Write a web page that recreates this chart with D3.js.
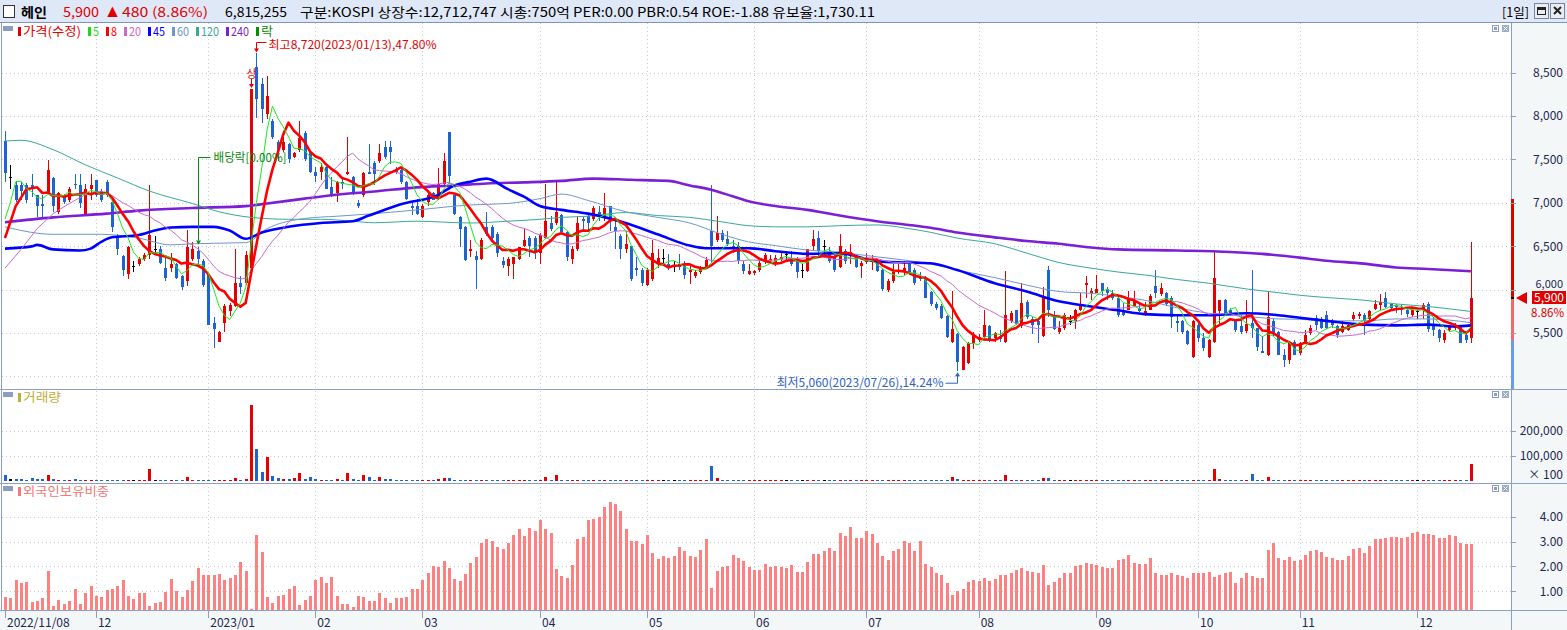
<!DOCTYPE html>
<html>
<head>
<meta charset="utf-8">
<script src="https://cdn.jsdelivr.net/npm/d3@7"></script>
<style>
  body { margin: 0; background: #fff; overflow: hidden; }
  svg text { font-family: "Noto Sans CJK KR", "Noto Sans", sans-serif; }
</style>
</head>
<body>
<svg id="chart" width="1567" height="630"></svg>
<script>
// ---- data ----
const firstDay = new Date(2022, 10, 8);
const lastDay = new Date(2023, 11, 15);
const holidays = ['2022-12-30','2023-01-23','2023-01-24','2023-03-01','2023-05-01','2023-05-05',
  '2023-05-29','2023-06-06','2023-08-15','2023-09-28','2023-09-29','2023-10-02','2023-10-03','2023-10-09'];

const openP = [
  7711,7295,7200,7200,7200,7200,7092,6985,7113,7287, 6897,7092,7027,7222,7200,6875,7157,7265,7135,7243,
  7005,6615,6385,6182,6270,6290,6355,6398,6463,6463, 6247,6247,6290,6152,6095,6355,6442,6325,6169,5610,
  5402,5619,5750,5814,6073,6073,6247,8565,8370,8020, 7937,7698,7612,7677,7525,7612,7807,7590,7352,7352,
  7417,7178,7113,7243,7330,7295,7000,7092,7352,7460, 7482,7642,7642,7382,7373,7243,6962,6962,6832,7005,
  7113,7048,7222,7815,7092,6832,6723,6450,6385,6355, 6723,6723,6637,6333,6268,6300,6355,6507,6593,6600,
  6420,6593,6767,6767,6862,6658,6355,6463,6810,6853, 6810,6890,6832,6962,6723,6615,6463,6498,6247,6225,
  6052,6117,6290,6368,6300,6270,6290,6268,6200,6152, 6203,6247,6680,6572,6650,6585,6507,6498,6290,6182,
  6190,6225,6333,6325,6290,6355,6412,6368,6355,6225, 6212,6507,6593,6500,6420,6377,6255,6442,6385,6377,
  6268,6320,6330,6333,6225,6000,6095,6203,6203,6290, 6225,6160,6138,5978,5835,5814,5692,5402,5489,5077,
  5155,5380,5424,5458,5575,5445,5467,5402,5640,5762, 5575,5857,5662,5640,5467,6225,5684,5510,5554,5640,
  5640,5770,6052,5965,5965,6073,6008,5965,5909,5770, 5770,5814,5792,5705,5770,6043,5944,5965,5909,5640,
  5640,5519,5220,5597,5445,5220,5402,5748,5878,5770, 5640,5575,5519,5618,5554,5294,5250,5640,5510,5250,
  5185,5402,5264,5389,5497,5670,5662,5705,5640,5575, 5510,5532,5662,5697,5705,5662,5780,5822,5900,5835,
  5822,5792,5770,5705,5748,5770,5835,5575,5532,5424, 5532,5562,5575,5475,5437];

const highP = [
  7828,7438,7252,7243,7230,7330,7092,7090,7495,7295, 7122,7100,7178,7330,7330,7222,7330,7265,7157,7265,
  7027,6637,6398,6507,6330,6377,6420,7210,6615,6507, 6377,6420,6312,6170,6690,6550,6485,6355,6180,5684,
  5520,5835,5850,6472,6152,6442,8310,8720,8435,8465, 7960,7720,7763,7690,7590,7945,7830,7600,7417,7460,
  7438,7295,7250,7287,7755,7308,7027,7352,7677,7482, 7677,7712,7712,7417,7395,7252,7005,7048,6983,7113,
  7122,7395,7578,7815,7113,6853,6732,6570,6440,6593, 6897,6745,6658,6377,6377,6377,6485,6702,6615,6615,
  6650,7222,6853,7252,6875,6680,6507,6853,6832,6875, 6962,6962,7113,6962,6810,6637,6680,6507,6377,6247,
  6247,6572,6463,6463,6412,6333,6412,6333,6290,6225, 6268,6377,7200,6853,6690,6680,6572,6550,6333,6290,
  6225,6333,6420,6398,6398,6442,6442,6442,6377,6290, 6472,6690,6680,6572,6485,6398,6637,6463,6528,6398,
  6333,6420,6398,6355,6247,6117,6290,6290,6333,6312, 6247,6203,6152,5987,5857,5835,5705,5987,5500,5345,
  5402,5510,5489,5770,5597,5510,5532,6212,5748,5770, 6073,5878,5684,5662,6030,6268,5748,5640,5727,5705,
  5780,5965,6152,6020,6170,6080,6030,6000,5922,5850, 5987,5987,5857,5857,5944,6225,6073,5978,5922,5705,
  5650,5532,5650,5618,5500,5430,6442,5878,5890,5792, 5662,5705,5878,6225,5562,5467,5987,5662,5519,5315,
  5402,5424,5402,5532,5597,5705,5684,5748,5662,5597, 5640,5618,5740,5740,5727,5762,5878,5944,5975,5848,
  5835,5822,5805,5792,5770,5848,5857,5684,5545,5532, 5597,5618,5597,5489,6550];

const lowP = [
  7243,7157,7005,7027,7000,7070,6832,6830,7092,6897, 6875,6990,7005,7157,6940,6875,7027,7070,7005,7070,
  6658,6398,6160,6125,6205,6270,6333,6355,6420,6290, 6095,6203,6125,5995,6040,6333,6290,6030,5597,5328,
  5402,5510,5700,5805,5944,6052,6225,7980,7915,7960, 7740,7482,7590,7460,7515,7590,7482,7340,7243,7265,
  7157,7070,7005,7157,7320,7092,6940,7070,7330,7200, 7460,7503,7452,7330,7222,7027,6862,6862,6820,6962,
  7027,7027,7200,7222,6862,6485,6325,6370,6008,6342, 6615,6572,6377,6247,6160,6117,6342,6485,6377,6355,
  6290,6585,6680,6745,6637,6333,6290,6442,6658,6680, 6788,6788,6788,6680,6463,6355,6420,6095,6160,6040,
  6040,6095,6247,6290,6225,6203,6225,6117,6060,6138, 6182,6233,6320,6550,6550,6507,6420,6290,6182,6170,
  6170,6203,6290,6290,6268,6333,6333,6268,6138,6138, 6203,6442,6377,6377,6312,6203,6247,6290,6290,6247,
  6138,6290,6225,6203,5987,5970,6080,6180,6170,6170, 6052,6095,5900,5814,5770,5662,5445,5389,5060,5070,
  5140,5320,5400,5445,5402,5402,5402,5389,5618,5597, 5554,5662,5489,5389,5458,5684,5532,5489,5532,5597,
  5545,5748,5900,5878,5965,5922,5878,5878,5684,5692, 5762,5805,5740,5692,5762,5900,5922,5814,5554,5510,
  5489,5358,5212,5402,5294,5212,5389,5600,5705,5692, 5510,5489,5500,5445,5294,5264,5230,5467,5242,5112,
  5140,5242,5250,5372,5480,5532,5545,5545,5554,5445, 5497,5519,5640,5662,5475,5640,5762,5770,5792,5762,
  5727,5705,5684,5684,5662,5662,5510,5467,5402,5389, 5510,5532,5380,5389,5389];

const closeP = [
  7339,7295,7027,7135,7027,7157,6962,6960,7382,6962, 7113,7005,7157,7200,6992,7157,7200,7092,7027,7092,
  6723,6463,6225,6485,6270,6355,6398,6628,6463,6312, 6138,6290,6138,6030,6485,6472,6355,6052,5597,5545,
  5510,5806,5820,6073,6030,6398,8310,8196,8075,8230, 7763,7612,7698,7503,7568,7742,7503,7352,7308,7408,
  7157,7092,7243,7222,7352,7113,6960,7343,7330,7330, 7568,7525,7582,7352,7243,7048,6945,6875,6962,7092,
  7035,7222,7482,7308,6875,6702,6342,6463,6342,6572, 6637,6593,6420,6282,6355,6370,6485,6572,6507,6442,
  6630,6788,6702,6897,6658,6377,6463,6767,6788,6767, 6940,6862,6940,6788,6680,6463,6528,6117,6225,6073,
  6225,6420,6368,6368,6247,6270,6255,6170,6225,6203, 6255,6342,6507,6650,6572,6528,6463,6325,6212,6212,
  6212,6312,6398,6355,6368,6377,6412,6290,6203,6225, 6463,6585,6442,6500,6333,6225,6507,6333,6430,6255,
  6312,6333,6345,6212,6008,6095,6203,6225,6247,6203, 6073,6117,5909,5835,5792,5675,5458,5545,5164,5337,
  5389,5467,5458,5597,5424,5500,5432,5705,5735,5605, 5848,5684,5590,5597,5930,5770,5545,5562,5705,5640,
  5762,5835,6073,5987,6008,5987,5965,5905,5705,5705, 5878,5865,5748,5757,5922,5965,6022,5835,5684,5619,
  5510,5372,5640,5445,5328,5424,6138,5878,5718,5705, 5532,5510,5605,5554,5337,5272,5684,5489,5250,5185,
  5389,5250,5389,5475,5562,5590,5562,5554,5597,5475, 5575,5597,5705,5718,5640,5748,5835,5857,5805,5792,
  5805,5770,5718,5770,5748,5822,5545,5532,5445,5500, 5567,5590,5389,5420,5900];

const volume = [
  2500000,900000,900000,900000,500000,1300000,900000,900000,2500000,900000,
  500000,500000,500000,900000,500000,500000,500000,500000,450000,450000,
  500000,500000,500000,500000,400000,500000,500000,4700000,500000,450000,
  450000,500000,450000,450000,1700000,500000,450000,450000,450000,450000,
  450000,500000,500000,1300000,500000,900000,30300000,12700000,3700000,9700000,
  2100000,1300000,900000,900000,1300000,3300000,900000,1700000,900000,500000,
  500000,500000,900000,500000,3300000,900000,500000,2500000,1700000,500000,
  1500000,900000,900000,450000,450000,500000,450000,420000,450000,480000,
  450000,750000,1200000,1200000,500000,450000,480000,420000,500000,450000,
  420000,450000,420000,400000,420000,450000,400000,420000,450000,420000,
  500000,1500000,450000,2500000,450000,420000,400000,450000,420000,400000,
  420000,400000,450000,420000,400000,420000,400000,450000,380000,400000,
  420000,450000,400000,380000,400000,380000,400000,420000,380000,400000,
  380000,420000,6000000,1350000,450000,420000,400000,420000,380000,400000,
  380000,400000,420000,380000,400000,380000,360000,400000,380000,360000,
  420000,450000,400000,380000,400000,380000,450000,400000,380000,400000,
  380000,360000,380000,400000,420000,380000,400000,380000,400000,380000,
  400000,380000,450000,420000,400000,420000,480000,1500000,650000,500000,
  450000,420000,400000,450000,400000,380000,400000,2400000,450000,420000,
  500000,420000,400000,420000,1200000,1200000,450000,400000,420000,380000,
  420000,450000,500000,420000,450000,420000,400000,380000,450000,400000,
  420000,400000,380000,400000,420000,500000,420000,400000,450000,420000,
  400000,420000,500000,420000,400000,450000,4800000,750000,450000,420000,
  420000,400000,500000,2700000,450000,420000,1500000,450000,420000,400000,
  420000,400000,450000,420000,450000,420000,400000,420000,400000,420000,
  400000,420000,450000,420000,400000,450000,480000,500000,450000,420000,
  400000,380000,400000,420000,380000,450000,600000,420000,450000,400000,
  420000,400000,450000,420000,6815255];

const foreign = [
  0.78,0.74,1.47,1.32,1.39,0.58,0.62,0.74,1.80,0.42, 0.66,0.50,0.62,1.07,0.50,0.91,1.23,0.82,0.78,1.03,
  1.07,1.23,1.47,0.82,0.70,0.91,0.91,0.42,0.54,0.58, 0.96,1.51,0.99,0.78,1.03,1.43,1.92,1.64,1.64,1.64,
  1.68,1.47,1.55,1.64,2.16,1.80,0.30,3.26,2.57,0.78, 0.54,0.82,0.86,1.11,1.23,0.46,0.66,0.82,1.47,1.59,
  1.35,1.59,0.82,0.50,0.50,0.38,0.82,0.78,0.62,0.62, 0.91,0.74,0.54,0.74,0.74,0.78,1.07,1.07,1.47,1.72,
  2.00,1.96,2.20,1.92,1.51,1.43,1.68,2.12,2.36,2.93, 3.09,3.01,2.77,2.71,2.93,3.27,3.51,3.24,3.54,3.44,
  3.85,3.51,3.36,1.90,1.61,1.53,2.05,3.12,3.19,3.85, 3.92,3.97,4.40,4.61,4.52,4.21,3.51,3.03,3.03,2.90,
  3.27,2.54,2.30,2.42,2.33,2.42,2.78,2.63,2.42,2.36, 2.66,3.12,1.14,1.81,1.99,2.02,2.45,2.33,2.22,1.99,
  1.87,1.87,2.11,1.99,2.02,1.99,1.95,2.07,1.79,1.79, 2.19,2.51,2.51,2.63,2.72,2.60,3.36,3.21,3.60,3.13,
  3.13,3.41,3.32,2.95,2.40,2.25,2.60,2.69,3.04,2.93, 2.60,3.04,2.08,1.99,1.75,1.66,1.34,0.86,1.02,1.11,
  1.38,1.47,1.41,1.53,1.43,1.49,1.66,1.66,1.75,1.84, 1.95,1.81,1.76,1.75,2.05,1.26,1.38,1.53,1.75,1.75,
  2.02,2.05,2.14,2.11,2.05,1.99,1.95,1.95,2.25,2.30, 2.45,2.14,2.08,2.08,2.33,1.72,1.66,1.64,1.72,1.66,
  1.61,1.53,1.72,1.72,1.72,1.76,1.56,1.66,1.72,1.79, 1.35,1.53,1.72,1.60,1.53,1.53,2.65,2.93,2.33,2.26,
  2.36,2.20,2.25,2.45,2.60,2.65,2.57,2.39,2.34,2.26, 2.26,2.42,2.68,2.75,2.55,2.81,3.12,3.12,3.16,3.18,
  3.18,3.16,3.18,3.36,3.39,3.30,3.30,3.27,3.16,3.16, 3.27,3.22,2.93,2.90,2.90];

const ma45Read = [[0,6472],[5,6498],[6,6515],[9,6463],[14,6450],[16,6472],[18,6550],[20,6602],[25,6628],
  [28,6680],[31,6715],[35,6723],[39,6723],[42,6680],[45,6585],[48,6658],[53,6723],[59,6767],[65,6788],
  [68,6853],[74,6983],[81,7092],[84,7200],[87,7243],[90,7278],[94,7157],[97,7070],[100,6962],[104,6918],
  [109,6875],[116,6767],[122,6637],[128,6507],[131,6477],[139,6477],[144,6442],[150,6412],[156,6420],
  [163,6325],[169,6312],[173,6303],[178,6225],[185,6073],[191,5978],[197,5865],[202,5814],[208,5762],
  [213,5718],[219,5705],[225,5705],[232,5727],[238,5705],[242,5675],[247,5640],[254,5597],[260,5588],
  [266,5597],[271,5575],[274,5588]];
const ma60Read = [[0,6723],[9,6637],[18,6637],[25,6593],[31,6515],[35,6528],[45,6541],[49,6702],[56,6819],
  [62,6845],[69,6875],[77,6918],[87,6975],[94,6992],[100,7048],[104,7100],[109,7027],[116,6897],[122,6832],
  [128,6767],[134,6637],[139,6550],[144,6507],[150,6455],[156,6429],[163,6377],[169,6333],[173,6295],
  [178,6225],[185,6138],[191,6052],[197,5978],[203,5957],[208,5922],[213,5878],[219,5792],[225,5727],
  [232,5692],[238,5662],[242,5658],[247,5640],[254,5640],[260,5662],[266,5662],[274,5619]];
const ma120Read = [[0,7711],[3,7720],[9,7612],[15,7438],[21,7287],[27,7135],[35,6992],[40,6897],[46,6832],
  [53,6810],[59,6810],[65,6788],[69,6770],[77,6788],[87,6767],[94,6788],[100,6810],[104,6832],[109,6845],
  [116,6888],[122,6853],[128,6832],[134,6780],[139,6736],[144,6723],[150,6723],[156,6736],[163,6745],
  [169,6702],[173,6660],[178,6593],[185,6528],[191,6420],[197,6312],[203,6247],[208,6203],[213,6169],
  [219,6117],[225,6073],[232,6008],[238,5965],[242,5935],[247,5909],[254,5878],[260,5835],[266,5805],
  [274,5748]];
const ma240Read = [[0,6775],[9,6832],[19,6875],[25,6910],[35,6940],[45,6962],[49,6992],[56,7048],[62,7092],
  [69,7130],[77,7178],[84,7200],[90,7222],[97,7235],[104,7252],[110,7278],[117,7265],[124,7252],[128,7200],
  [132,7150],[136,7075],[139,7018],[144,6962],[150,6918],[156,6853],[163,6788],[169,6745],[173,6712],
  [178,6658],[185,6602],[191,6559],[197,6528],[203,6485],[208,6463],[219,6450],[229,6433],[235,6412],
  [242,6368],[247,6333],[254,6299],[260,6255],[266,6238],[274,6212]];
// start of the short averages, before their window is full
const ma5Head = [[0,6810],[1,7000],[2,7240],[3,7250]];
const ma8Head = [[0,6593],[2,6962],[4,7157],[6,7178]];
const ma20Head = [[0,6247],[3,6463],[6,6702],[9,6875],[12,6992],[15,7092],[18,7135]];

const priceTicks = [5500, 6000, 6500, 7000, 7500, 8000, 8500];
const priceGrid = [5000, 5500, 6000, 6500, 7000, 7500, 8000, 8500];
const volTicks = [100000, 200000];       // shown in units of 100 shares
const foreignTicks = [1, 2, 3, 4];
const exDivBar = 36;
const upperLimit = 7040;

// ---- trading days ----
const fmtKey = d3.timeFormat('%Y-%m-%d');
const dates = [];
for (let d = new Date(firstDay); d <= lastDay; d.setDate(d.getDate() + 1)) {
  const wd = d.getDay();
  if (wd === 0 || wd === 6 || holidays.includes(fmtKey(d))) continue;
  dates.push(new Date(d));
}

// ---- layout ----
const W = 1567, H = 630;
const plotR = 1511;
const pTop = 23, pBot = 389, vBot = 481, fTop = 483, fBot = 610;
const svg = d3.select('#chart');

const n = closeP.length;
const x = d3.scaleBand().domain(d3.range(n)).range([2.3, 2.3 + n * 5.35]);
const xc = i => x(i) + x.bandwidth() / 2;
const yP = d3.scaleLinear().domain([4855, 9071]).range([pBot, pTop]);
const yV = d3.scaleLinear().domain([0, 368000]).range([vBot, pBot]);
const yF = d3.scaleLinear().domain([0.245, 5.355]).range([fBot, fTop]);

const gridC = '#c5cad4', frameC = '#8c9ec2', axisTxt = '#1b2850';
const upC = '#e60000', dnC = '#1f63d0';
const candleCol = i => closeP[i] > openP[i] ? upC : (closeP[i] < openP[i] ? dnC : '#000');

// backgrounds
svg.append('rect').attr('width', W).attr('height', H).attr('fill', '#fff');
svg.append('rect').attr('x', plotR).attr('y', pTop).attr('width', W - plotR).attr('height', H - pTop).attr('fill', '#f4f7f7');
svg.append('rect').attr('x', 0).attr('y', fBot).attr('width', plotR).attr('height', H - fBot).attr('fill', '#f4f7f7');

// clips
const defs = svg.append('defs');
[['clipP', pTop, pBot], ['clipV', pBot, fTop], ['clipF', fTop, fBot]].forEach(([id, t, b]) => {
  defs.append('clipPath').attr('id', id).append('rect')
    .attr('x', 2).attr('y', t).attr('width', plotR - 2).attr('height', b - t);
});

// month ticks from dates
const monthIdx = [];
dates.forEach((d, i) => {
  if (i === 0 || d.getMonth() !== dates[i - 1].getMonth()) monthIdx.push(i);
});
const monthLabel = i => i === 0 ? d3.timeFormat('%Y/%m/%d')(dates[i])
  : (dates[i].getMonth() === 0 ? d3.timeFormat('%Y/%m')(dates[i]) : d3.timeFormat('%m')(dates[i]));

// grid
const grid = svg.append('g').attr('stroke', gridC).attr('stroke-dasharray', '1,3').attr('shape-rendering', 'crispEdges');
grid.selectAll('.gp').data(priceGrid).join('line')
  .attr('x1', 2).attr('x2', plotR).attr('y1', d => Math.round(yP(d)) + 0.5).attr('y2', d => Math.round(yP(d)) + 0.5);
grid.selectAll('.gv').data(volTicks).join('line').attr('class', 'gv')
  .attr('x1', 2).attr('x2', plotR).attr('y1', d => Math.round(yV(d)) + 0.5).attr('y2', d => Math.round(yV(d)) + 0.5);
grid.selectAll('.gf').data(foreignTicks).join('line').attr('class', 'gf')
  .attr('x1', 2).attr('x2', plotR).attr('y1', d => Math.round(yF(d)) + 0.5).attr('y2', d => Math.round(yF(d)) + 0.5);
grid.selectAll('.gx').data(monthIdx.slice(1)).join('line').attr('class', 'gx')
  .attr('x1', d => Math.round(xc(d)) + 0.5).attr('x2', d => Math.round(xc(d)) + 0.5)
  .attr('y1', pTop).attr('y2', fBot);

// ---- price panel ----
const gP = svg.append('g').attr('clip-path', 'url(#clipP)');
const idx = d3.range(n);
gP.selectAll('.wick').data(idx).join('line').attr('class', 'wick')
  .attr('x1', i => Math.round(xc(i)) + 0.5).attr('x2', i => Math.round(xc(i)) + 0.5)
  .attr('y1', i => yP(Math.max(highP[i], openP[i], closeP[i])))
  .attr('y2', i => yP(Math.min(lowP[i], openP[i], closeP[i])))
  .attr('stroke', candleCol).attr('shape-rendering', 'crispEdges');
gP.selectAll('.body').data(idx).join('rect').attr('class', 'body')
  .attr('x', i => Math.round(xc(i)) - 1)
  .attr('width', 3)
  .attr('y', i => yP(Math.max(openP[i], closeP[i])))
  .attr('height', i => Math.max(1, Math.abs(yP(openP[i]) - yP(closeP[i]))))
  .attr('fill', candleCol).attr('shape-rendering', 'crispEdges');

function sma(len, head) {
  const pts = head.map(p => p.slice());
  for (let i = len - 1; i < n; i++) pts.push([i, d3.mean(closeP.slice(i - len + 1, i + 1))]);
  return pts;
}
const lineFn = d3.line().x(d => xc(d[0])).y(d => yP(d[1]));
const smooth = d3.line().x(d => xc(d[0])).y(d => yP(d[1])).curve(d3.curveMonotoneX);
const maSeries = [
  { pts: ma240Read, color: '#7b1fd6', w: 2.6, gen: smooth },
  { pts: ma120Read, color: '#3aa898', w: 1, gen: smooth },
  { pts: ma60Read, color: '#6b98cc', w: 1, gen: smooth },
  { pts: ma45Read, color: '#0000ff', w: 2.6, gen: smooth },
  { pts: sma(20, ma20Head), color: '#c86ad0', w: 1, gen: lineFn },
  { pts: sma(8, ma8Head), color: '#ff0000', w: 2.6, gen: lineFn },
  { pts: sma(5, ma5Head), color: '#1ee81e', w: 1, gen: lineFn }
];
gP.selectAll('.ma').data(maSeries).join('path').attr('class', 'ma')
  .attr('d', d => d.gen(d.pts)).attr('fill', 'none')
  .attr('stroke', d => d.color).attr('stroke-width', d => d.w).attr('stroke-linejoin', 'round');

// high / low / ex-dividend / limit-up notes
const last = closeP[n - 1];
const iHi = d3.maxIndex(highP), iLo = d3.minIndex(lowP);
const fmtN = d3.format(','), fmtD = d3.timeFormat('%Y/%m/%d');
const note = svg.append('g');
{
  const hx = Math.round(xc(iHi)) + 0.5, hy = yP(highP[iHi]);
  note.append('path').attr('d', `M${hx + 10},${hy - 11}H${hx}V${hy - 4}`).attr('fill', 'none').attr('stroke', '#e00000');
  note.append('path').attr('d', `M${hx - 2.5},${hy - 5}L${hx + 2.5},${hy - 5}L${hx},${hy - 1}Z`).attr('fill', '#e00000');
  note.append('text').attr('x', hx + 12).attr('y', hy - 4).attr('font-size', 11.5).attr('fill', '#e00000')
    .attr('textLength', 168).attr('lengthAdjust', 'spacingAndGlyphs')
    .text(`최고${fmtN(highP[iHi])}(${fmtD(dates[iHi])}),${((highP[iHi] - last) / last * 100).toFixed(2)}%`);

  const lx = Math.round(xc(iLo)) + 0.5, ly = yP(lowP[iLo]);
  note.append('path').attr('d', `M${lx - 12},${ly + 12}H${lx}V${ly + 4}`).attr('fill', 'none').attr('stroke', '#2f62c4');
  note.append('path').attr('d', `M${lx - 2.5},${ly + 5}L${lx + 2.5},${ly + 5}L${lx},${ly + 1}Z`).attr('fill', '#2f62c4');
  note.append('text').attr('x', lx - 181).attr('y', ly + 15.5).attr('font-size', 12).attr('fill', '#2f62c4')
    .attr('textLength', 167).attr('lengthAdjust', 'spacingAndGlyphs')
    .text(`최저${fmtN(lowP[iLo])}(${fmtD(dates[iLo])}),${((last - lowP[iLo]) / last * 100).toFixed(2)}%`);

  const ex = Math.round(xc(exDivBar)) + 0.5, ey = yP(highP[exDivBar]);
  note.append('path').attr('d', `M${ex + 12},157.5H${ex}V${ey - 7}`).attr('fill', 'none').attr('stroke', '#0a8a0a');
  note.append('path').attr('d', `M${ex - 2.5},${ey - 7}L${ex + 2.5},${ey - 7}L${ex},${ey - 3}Z`).attr('fill', '#0a8a0a');
  note.append('text').attr('x', ex + 15).attr('y', 162).attr('font-size', 12).attr('fill', '#0a8a0a')
    .attr('textLength', 73).attr('lengthAdjust', 'spacingAndGlyphs').text('배당락[0.00%]');

  // limit-up day
  const iUp = idx.find(i => i > 0 && closeP[i] >= closeP[i - 1] * 1.29);
  const ux = Math.round(xc(iUp)) + 0.5, uy = yP(highP[iUp]);
  note.append('text').attr('x', ux).attr('y', uy - 11).attr('text-anchor', 'middle')
    .attr('font-size', 11).attr('fill', '#e00000').text('상');
  note.append('path').attr('d', `M${ux},${uy - 10}V${uy - 4}`).attr('stroke', '#e00000');
  note.append('path').attr('d', `M${ux - 2.5},${uy - 5}L${ux + 2.5},${uy - 5}L${ux},${uy - 1}Z`).attr('fill', '#e00000');
}

// ---- volume panel ----
svg.append('g').attr('clip-path', 'url(#clipV)')
  .selectAll('rect').data(idx).join('rect')
  .attr('x', i => Math.round(xc(i)) - 1).attr('width', 3)
  .attr('y', i => Math.min(yV(volume[i] / 100), vBot - 1))
  .attr('height', i => Math.max(1, vBot - yV(volume[i] / 100)))
  .attr('fill', candleCol).attr('shape-rendering', 'crispEdges');

// ---- foreign holding panel ----
svg.append('g').attr('clip-path', 'url(#clipF)')
  .selectAll('rect').data(idx).join('rect')
  .attr('x', i => Math.round(xc(i)) - 1).attr('width', 3)
  .attr('y', i => yF(foreign[i]))
  .attr('height', i => fBot - yF(foreign[i]))
  .attr('fill', '#ff8080').attr('shape-rendering', 'crispEdges');

// ---- frames ----
const frame = svg.append('g').attr('stroke', frameC).attr('shape-rendering', 'crispEdges');
[pBot, fTop, fBot].forEach(y => frame.append('line').attr('x1', 0).attr('x2', W).attr('y1', y + 0.5).attr('y2', y + 0.5));
frame.append('line').attr('x1', 1.5).attr('x2', 1.5).attr('y1', pTop).attr('y2', fBot);
frame.append('line').attr('x1', plotR + 0.5).attr('x2', plotR + 0.5).attr('y1', pTop).attr('y2', H);

// price range strip on the axis (upper limit -> last -> previous close -> below)
const prev = closeP[n - 2];
const strip = svg.append('g').attr('shape-rendering', 'crispEdges');
strip.append('rect').attr('x', plotR).attr('width', 3).attr('y', yP(upperLimit)).attr('height', yP(last) - yP(upperLimit)).attr('fill', '#e00000');
strip.append('rect').attr('x', plotR).attr('width', 3).attr('y', yP(last)).attr('height', yP(prev) - yP(last)).attr('fill', '#f06a6a');
strip.append('rect').attr('x', plotR).attr('width', 3).attr('y', yP(prev)).attr('height', pBot - yP(prev)).attr('fill', '#6b9de6');
strip.append('rect').attr('x', plotR).attr('width', 3).attr('y', yP(last) - 1).attr('height', 2).attr('fill', '#000');

// ---- right axes ----
function rightAxis(scale, major, minor, fmt) {
  const g = svg.append('g').attr('transform', `translate(${plotR},0)`);
  g.call(d3.axisRight(scale).tickValues(minor).tickSize(3).tickFormat(''));
  g.call(d3.axisRight(scale).tickValues(major).tickSize(5).tickFormat(fmt));
  g.selectAll('.domain').remove();
  g.selectAll('line').attr('stroke', frameC).attr('shape-rendering', 'crispEdges');
  g.selectAll('text').attr('x', 52).attr('text-anchor', 'end')
    .attr('fill', axisTxt).attr('font-size', 12);
  return g;
}
const pAxis = rightAxis(yP, priceTicks, d3.range(4900, 9001, 100), d3.format(','));
rightAxis(yV, volTicks, d3.range(25000, 350001, 25000), d3.format(','));
rightAxis(yF, foreignTicks, d3.range(0.5, 5.01, 0.25), d3.format('.2f'));
svg.append('text').attr('x', plotR + 52).attr('y', 478.5).attr('text-anchor', 'end')
  .attr('font-size', 12).attr('fill', axisTxt).text('× 100');

// last price flag; the axis label it would hide is lifted clear of it
const ly0 = Math.round(yP(last));
pAxis.selectAll('.tick').filter(d => Math.abs(yP(d) - ly0) < 12).select('text')
  .attr('dy', '0em').attr('y', d => ly0 - 11 - yP(d)).attr('font-size', 11);
svg.append('path').attr('d', `M${plotR + 5},${ly0}L${plotR + 16},${ly0 - 6}L${plotR + 16},${ly0 + 6}Z`).attr('fill', '#e00000');
svg.append('rect').attr('x', plotR + 21).attr('y', ly0 - 7).attr('width', 34).attr('height', 13).attr('fill', '#e00000');
svg.append('text').attr('x', plotR + 53).attr('y', ly0 + 3.5).attr('text-anchor', 'end')
  .attr('font-size', 12).attr('fill', '#fff').text(fmtN(last));
svg.append('text').attr('x', plotR + 53).attr('y', ly0 + 19).attr('text-anchor', 'end')
  .attr('font-size', 11.5).attr('fill', '#e00000').text(((last - prev) / prev * 100).toFixed(2) + '%');

// ---- x axis ----
const gx = svg.append('g');
gx.selectAll('line').data(monthIdx).join('line')
  .attr('x1', d => Math.round(xc(d)) + 0.5).attr('x2', d => Math.round(xc(d)) + 0.5)
  .attr('y1', fBot + 1).attr('y2', fBot + 8).attr('stroke', frameC).attr('shape-rendering', 'crispEdges');
gx.selectAll('text').data(monthIdx).join('text')
  .attr('x', d => xc(d) + 2).attr('y', 627).attr('font-size', 12).attr('fill', axisTxt)
  .text(monthLabel);

// ---- legends ----
const legendItems = [
  { label: '가격(수정)', color: '#e00000', len: 58 }, { label: '5', color: '#1ed81e', len: 6 },
  { label: '8', color: '#ff0000', len: 6 }, { label: '20', color: '#c86ad0', len: 12 },
  { label: '45', color: '#0000ff', len: 12 }, { label: '60', color: '#6b98cc', len: 12 },
  { label: '120', color: '#3aa898', len: 18 }, { label: '240', color: '#7b1fd6', len: 18 },
  { label: '락', color: '#0a8a0a', len: 12 }
];
function panelHead(y0, items) {
  svg.append('rect').attr('x', 3).attr('y', y0 + 3).attr('width', 10).attr('height', 5).attr('fill', '#8b9dc0');
  let cx = 18;
  items.forEach(it => {
    svg.append('rect').attr('x', cx).attr('y', y0 + 4).attr('width', 3).attr('height', 9).attr('fill', it.color);
    svg.append('text').attr('x', cx + 5).attr('y', y0 + 13).attr('font-size', 12.5)
      .attr('fill', it.color).attr('textLength', it.len).attr('lengthAdjust', 'spacingAndGlyphs').text(it.label);
    cx += 5 + it.len + 7;
  });
  // panel buttons
  const b = svg.append('g').attr('shape-rendering', 'crispEdges');
  b.append('rect').attr('x', 1492.5).attr('y', y0 + 2.5).attr('width', 6).attr('height', 6).attr('fill', '#fff').attr('stroke', '#8b9dc0');
  b.append('rect').attr('x', 1494).attr('y', y0 + 4).attr('width', 3).attr('height', 3).attr('fill', '#8b9dc0');
  b.append('rect').attr('x', 1502).attr('y', y0 + 2).attr('width', 7).attr('height', 7).attr('fill', '#9aabc8');
  b.append('path').attr('d', `M1503.5,${y0 + 3.5}L1507.5,${y0 + 7.5}M1507.5,${y0 + 3.5}L1503.5,${y0 + 7.5}`)
    .attr('stroke', '#fff').attr('shape-rendering', 'auto');
}
panelHead(pTop, legendItems);
panelHead(pBot, [{ label: '거래량', color: '#bdb03a', len: 38 }]);
panelHead(fTop, [{ label: '외국인보유비중', color: '#f07a7a', len: 86 }]);

// ---- header bar ----
const hdr = svg.append('g');
hdr.append('rect').attr('width', W).attr('height', 22).attr('fill', '#dfe8f7');
hdr.append('line').attr('x1', 0).attr('x2', W).attr('y1', 22.5).attr('y2', 22.5).attr('stroke', '#7f93bb');
hdr.append('rect').attr('x', 3.5).attr('y', 5.5).attr('width', 11).attr('height', 12).attr('fill', '#fff').attr('stroke', '#333');
const htxt = (x0, s, color, len, bold) => {
  const t = hdr.append('text').attr('x', x0).attr('y', 16.5).attr('font-size', 13).attr('fill', color).text(s);
  if (len) t.attr('textLength', len).attr('lengthAdjust', 'spacingAndGlyphs');
  if (bold) t.attr('font-weight', 'bold');
};
const chg = last - prev;
htxt(21, '헤인', '#000', 26, true);
htxt(63, fmtN(last), '#e00000', 36);
htxt(107, '▲', '#e00000', 11);
htxt(122, `${fmtN(chg)} (${(chg / prev * 100).toFixed(2)}%)`, '#e00000', 86);
htxt(225, fmtN(volume[n - 1]), '#000', 62);
htxt(300, '구분:KOSPI 상장수:12,712,747 시총:750억 PER:0.00 PBR:0.54 ROE:-1.88 유보율:1,730.11', '#000', 575);
htxt(1502, '[1일]', '#000', 27);
const btn = hdr.append('g').attr('shape-rendering', 'crispEdges');
btn.append('rect').attr('x', 1534.5).attr('y', 3.5).attr('width', 14).attr('height', 15).attr('fill', '#e9ecf2').attr('stroke', '#7a869c');
btn.append('rect').attr('x', 1537.5).attr('y', 7.5).attr('width', 8).attr('height', 7).attr('fill', 'none').attr('stroke', '#222');
btn.append('rect').attr('x', 1537).attr('y', 7).attr('width', 9).attr('height', 3).attr('fill', '#222');
btn.append('rect').attr('x', 1550.5).attr('y', 3.5).attr('width', 14).attr('height', 15).attr('fill', '#e9ecf2').attr('stroke', '#7a869c');
btn.append('path').attr('d', 'M1554,7L1561,14M1561,7L1554,14').attr('stroke', '#222').attr('stroke-width', 2)
  .attr('shape-rendering', 'auto');
</script>
</body>
</html>
